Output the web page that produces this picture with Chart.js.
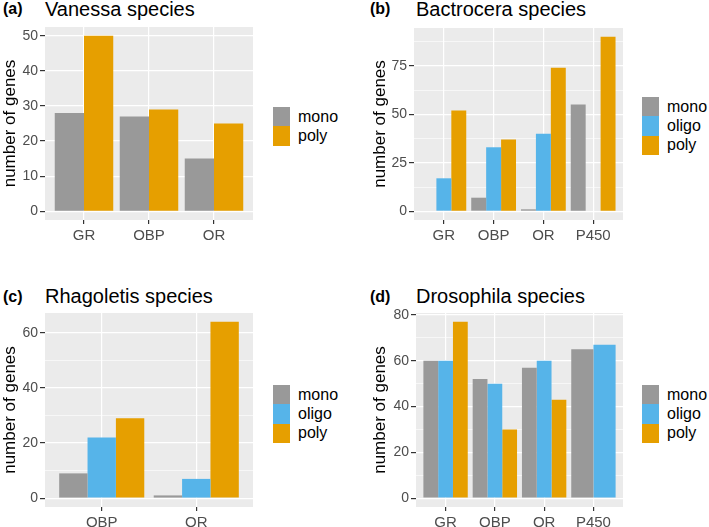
<!DOCTYPE html>
<html>
<head>
<meta charset="utf-8">
<script src="https://cdn.jsdelivr.net/npm/chart.js@4.4.0/dist/chart.umd.min.js"></script>
<style>
    body { margin: 0; width: 709px; height: 527px; overflow: hidden; background: #fff; position: relative;
           font-family: "Liberation Sans", Arial, sans-serif; }
    canvas, .txt, .legend { position: absolute; }
    .txt { line-height: 1; white-space: nowrap; color: #000; }
    .tag { font-weight: bold; font-size: 16px; }
    .title { font-size: 20px; }
    .legend .row { height: 19.4px; display: flex; align-items: center; font-size: 16px; color: #000; }
    .legend .key { width: 17px; height: 19.4px; margin-right: 8px; }
</style>
</head>
<body>

<div class="txt tag" style="left:3px; top:1px">(a)</div>
<div class="txt title" style="left:45px; top:-1px">Vanessa species</div>
<div class="txt tag" style="left:370px; top:1px">(b)</div>
<div class="txt title" style="left:416px; top:-1px">Bactrocera species</div>
<div class="txt tag" style="left:3px; top:289px">(c)</div>
<div class="txt title" style="left:45px; top:286px">Rhagoletis species</div>
<div class="txt tag" style="left:370px; top:289px">(d)</div>
<div class="txt title" style="left:416px; top:286px">Drosophila species</div>

<canvas id="chartA" width="256" height="250" style="left:0px; top:10px"></canvas>
<canvas id="chartB" width="256" height="250" style="left:370px; top:10px"></canvas>
<canvas id="chartC" width="256" height="227" style="left:0px; top:300px"></canvas>
<canvas id="chartD" width="256" height="227" style="left:370px; top:300px"></canvas>

<div class="legend" id="legendA" style="left:273px; top:107px"></div>
<div class="legend" id="legendB" style="left:642px; top:97px"></div>
<div class="legend" id="legendC" style="left:273px; top:385px"></div>
<div class="legend" id="legendD" style="left:642px; top:385px"></div>

<script>
// series colours (ggplot colour-blind palette)
const seriesNames = ['mono', 'oligo', 'poly'];
const seriesColors = ['#999999', '#56B4E9', '#E69F00'];

// (a) Vanessa
const vanessaCats = ['GR', 'OBP', 'OR'];
const vanessaMono = [28, 27, 15];
const vanessaPoly = [50, 29, 25];
const vanessaTicks = [0, 10, 20, 30, 40, 50];

// (b) Bactrocera
const bactroCats = ['GR', 'OBP', 'OR', 'P450'];
const bactroMono = [0, 7, 1, 55];
const bactroOligo = [17, 33, 40, 0];
const bactroPoly = [52, 37, 74, 90];
const bactroTicks = [0, 25, 50, 75];

// (c) Rhagoletis
const rhagoCats = ['OBP', 'OR'];
const rhagoMono = [9, 1];
const rhagoOligo = [22, 7];
const rhagoPoly = [29, 64];
const rhagoTicks = [0, 20, 40, 60];

// (d) Drosophila
const drosoCats = ['GR', 'OBP', 'OR', 'P450'];
const drosoMono = [60, 52, 57, 65];
const drosoOligo = [60, 50, 60, 67];
const drosoPoly = [77, 30, 43, null];
const drosoTicks = [0, 20, 40, 60, 80];

Chart.defaults.font.family = '"Liberation Sans", Arial, sans-serif';

const panelBg = {
    id: 'panelBg',
    beforeDraw(chart) {
        const { ctx, chartArea } = chart;
        ctx.save();
        ctx.fillStyle = '#EBEBEB';
        ctx.fillRect(chartArea.left, chartArea.top, chartArea.width, chartArea.height);
        ctx.restore();
    }
};

function buildLegend(id, names) {
    const box = document.getElementById(id);
    names.forEach(name => {
        const row = document.createElement('div');
        row.className = 'row';
        row.innerHTML = `<span class="key" style="background:${seriesColors[seriesNames.indexOf(name)]}"></span>${name}`;
        box.appendChild(row);
    });
}

function makePanel(p) {
    const all = p.series.flatMap(s => s.values).filter(v => v !== null);
    const top = Math.max(...all);
    const yMax = top * 1.05;
    const yMin = -top * 0.05;
    const step = p.majors[1] - p.majors[0];
    let yTicks = [];
    p.majors.forEach(v => {
        if (v - step / 2 >= yMin) yTicks.push(v - step / 2);
        yTicks.push(v);
    });
    const last = p.majors[p.majors.length - 1] + step / 2;
    if (last <= yMax) yTicks.push(last);
    yTicks = [...new Set(yTicks)].sort((a, b) => a - b);
    const isMajor = v => p.majors.includes(v);

    new Chart(document.getElementById(p.canvas), {
        type: 'bar',
        data: {
            datasets: p.series.map(s => ({
                label: s.name,
                data: p.cats.map((c, i) => ({ x: i + 1, y: s.values[i] })),
                backgroundColor: seriesColors[seriesNames.indexOf(s.name)],
                borderWidth: 0
            }))
        },
        options: {
            responsive: false,
            animation: false,
            layout: { padding: { top: p.padTop, right: 3, left: 0, bottom: 0 } },
            plugins: { legend: { display: false }, tooltip: { enabled: false } },
            datasets: { bar: { categoryPercentage: 0.9, barPercentage: 1, skipNull: !!p.skipNull } },
            scales: {
                x: {
                    type: 'linear',
                    offset: false,
                    min: 0.4,
                    max: p.cats.length + 0.6,
                    afterBuildTicks: a => { a.ticks = p.cats.map((c, i) => ({ value: i + 1 })); },
                    afterFit: a => { a.height = p.xHeight; },
                    ticks: {
                        callback: v => p.cats[v - 1],
                        color: '#4D4D4D', font: { size: 15 }, padding: 3,
                        autoSkip: false, maxRotation: 0
                    },
                    grid: { offset: false, color: '#ffffff', lineWidth: 1.2, tickColor: '#333333', tickLength: 4 },
                    border: { display: false }
                },
                y: {
                    min: yMin,
                    max: yMax,
                    afterBuildTicks: a => { a.ticks = yTicks.map(v => ({ value: v })); },
                    afterFit: a => { a.width = p.yWidth; },
                    ticks: {
                        callback: v => isMajor(v) ? String(v) : '',
                        color: '#4D4D4D', font: { size: 14 }, padding: 2
                    },
                    grid: {
                        color: '#ffffff',
                        lineWidth: ctx => isMajor(ctx.tick.value) ? 1.2 : 0.6,
                        tickColor: ctx => isMajor(ctx.tick.value) ? '#333333' : 'rgba(0,0,0,0)',
                        tickLength: 5
                    },
                    border: { display: false },
                    title: { display: true, text: 'number of genes', color: '#000', font: { size: 17 }, padding: 0 }
                }
            }
        },
        plugins: [panelBg]
    });
    buildLegend(p.legend, p.series.map(s => s.name));
}

makePanel({
    canvas: 'chartA', legend: 'legendA', cats: vanessaCats, majors: vanessaTicks,
    series: [{ name: 'mono', values: vanessaMono }, { name: 'poly', values: vanessaPoly }],
    yWidth: 45, padTop: 17, xHeight: 40
});
makePanel({
    canvas: 'chartB', legend: 'legendB', cats: bactroCats, majors: bactroTicks,
    series: [{ name: 'mono', values: bactroMono }, { name: 'oligo', values: bactroOligo }, { name: 'poly', values: bactroPoly }],
    yWidth: 44, padTop: 18, xHeight: 40
});
makePanel({
    canvas: 'chartC', legend: 'legendC', cats: rhagoCats, majors: rhagoTicks,
    series: [{ name: 'mono', values: rhagoMono }, { name: 'oligo', values: rhagoOligo }, { name: 'poly', values: rhagoPoly }],
    yWidth: 45, padTop: 13, xHeight: 20
});
makePanel({
    canvas: 'chartD', legend: 'legendD', cats: drosoCats, majors: drosoTicks,
    series: [{ name: 'mono', values: drosoMono }, { name: 'oligo', values: drosoOligo }, { name: 'poly', values: drosoPoly }],
    yWidth: 46, padTop: 13, xHeight: 20, skipNull: true
});
</script>
</body>
</html>
